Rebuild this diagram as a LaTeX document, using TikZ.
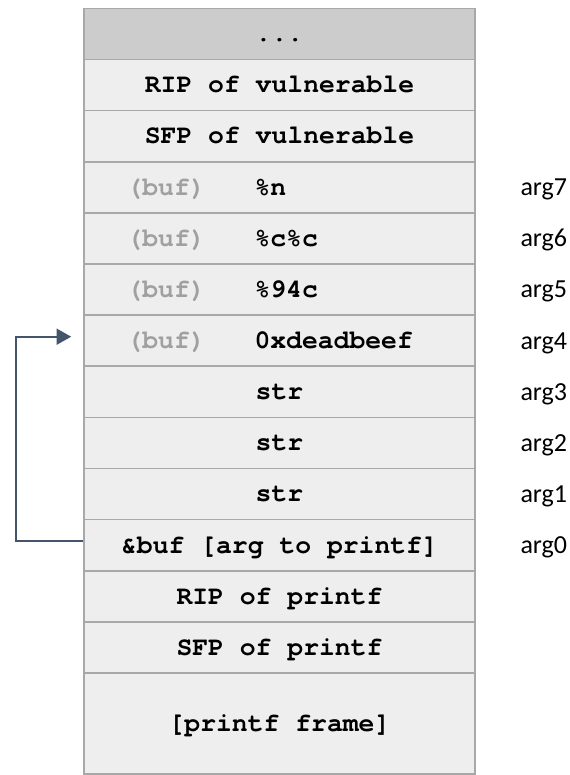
\documentclass[tikz,border=0pt]{standalone}
\usepackage{fontspec}
\setmainfont{Carlito}
\newfontfamily\stackmono{texgyrecursor-bold.otf}
\usetikzlibrary{arrows.meta}

\definecolor{cellfill}{HTML}{EEEEEE}
\definecolor{topfill}{HTML}{CCCCCC}
\definecolor{cellline}{HTML}{A8A8A8}
\definecolor{bufgray}{HTML}{A0A0A0}
\definecolor{ptrblue}{HTML}{44546A}

\newcommand{\stackfont}{\stackmono\fontsize{19.8}{22}\selectfont}

\tikzset{every picture/.style={line width=0.75pt}}
\tikzset{
  cell/.style={draw=cellline, fill=cellfill, line width=1.2pt, minimum width=293.25pt, minimum height=38.35pt,
    inner sep=0pt, text height=13.5pt, text depth=1.8pt, font=\stackfont},
  bufnote/.style={anchor=base west, inner sep=0pt, text=bufgray, font=\stackfont},
  bufval/.style={anchor=base west, inner sep=0pt, font=\stackfont},
  arglabel/.style={anchor=base west, inner sep=0pt, font=\fontsize{19.5}{21}\selectfont},
  ptr/.style={draw=ptrblue, line width=1.5pt, -{Triangle[length=11pt,width=12pt]}}
}

\begin{document}
\begin{tikzpicture}[x=0.75pt,y=0.75pt,yscale=-1,xscale=1]
\useasboundingbox (0,0) rectangle (570,775);

% Stack cells
\node [cell, fill=topfill] (dots) at (279.5,33.9) {...};
\node [cell] (ripvuln) at (279.5,85) {RIP of vulnerable};
\node [cell] (sfpvuln) at (279.5,136.1) {SFP of vulnerable};
\node [cell] (bufn) at (279.5,187.3) {};
\node [cell] (bufcc) at (279.5,238.4) {};
\node [cell] (bufpad) at (279.5,289.5) {};
\node [cell] (bufaddr) at (279.5,340.7) {};
\node [cell] (strc) at (279.5,391.8) {str};
\node [cell] (strb) at (279.5,442.9) {str};
\node [cell] (stra) at (279.5,494) {str};
\node [cell] (fmtarg) at (279.5,545.2) {\&buf [arg to printf]};
\node [cell] (ripprintf) at (279.5,596.3) {RIP of printf};
\node [cell] (sfpprintf) at (279.5,647.4) {SFP of printf};
\node [cell, minimum height=75.75pt] (frame) at (279.5,723.6) {[printf frame]};

% Text Node
\node [bufnote] (bufnotea) at (126,195.1) {(buf)};
\node [bufval] (valn) at (254,195.1) {\%n};
% Text Node
\node [bufnote] (bufnoteb) at (126,246.2) {(buf)};
\node [bufval] (valcc) at (254,246.2) {\%c\%c};
% Text Node
\node [bufnote] (bufnotec) at (126,297.3) {(buf)};
\node [bufval] (valpad) at (254,297.3) {\%94c};
% Text Node
\node [bufnote] (bufnoted) at (126,348.5) {(buf)};
\node [bufval] (valaddr) at (254,348.5) {0xdeadbeef};

% Argument labels
\node [arglabel] (argseven) at (520,195.6) {arg7};
\node [arglabel] (argsix) at (520,246.7) {arg6};
\node [arglabel] (argfive) at (520,297.8) {arg5};
\node [arglabel] (argfour) at (520,349) {arg4};
\node [arglabel] (argthree) at (520,400.1) {arg3};
\node [arglabel] (argtwo) at (520,451.2) {arg2};
\node [arglabel] (argone) at (520,502.3) {arg1};
\node [arglabel] (argzero) at (520,553.5) {arg0};

% Pointer from &buf back to the buffer
\draw [ptr] ([yshift=-3pt]fmtarg.west) -- ++(-67,0) |- ([xshift=-9pt,yshift=-3pt]bufaddr.west);

\end{tikzpicture}
\end{document}
